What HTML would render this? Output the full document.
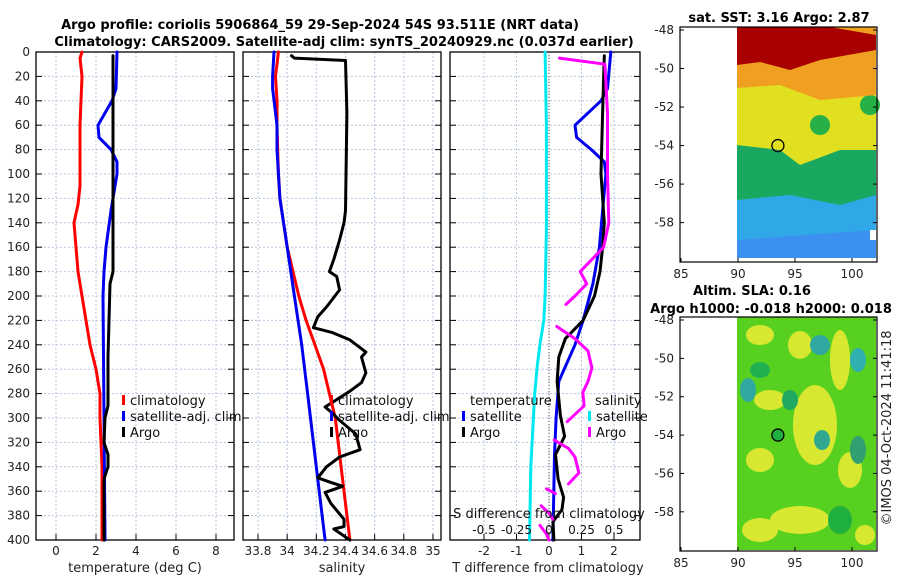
<!DOCTYPE html>
<html><head><meta charset="utf-8"><style>
html,body{margin:0;padding:0;background:#fff;}
svg{display:block;font-family:"DejaVu Sans","Liberation Sans",sans-serif;}
</style></head><body>
<svg id="c" width="900" height="580" viewBox="0 0 900 580">
<text x="320" y="29" font-size="13" font-weight="bold" text-anchor="middle">Argo profile: coriolis 5906864_59 29-Sep-2024 54S 93.511E (NRT data)</text>
<text x="344" y="46" font-size="13" font-weight="bold" text-anchor="middle">Climatology: CARS2009. Satellite-adj clim: synTS_20240929.nc (0.037d earlier)</text>
<g id="maps"></g>
<text transform="translate(891,428) rotate(-90)" font-size="13" text-anchor="middle" fill="#222">©IMOS 04-Oct-2024 11:41:18</text>
</svg>
<script>
// ---------- data ----------
const depthTicks=[0,20,40,60,80,100,120,140,160,180,200,220,240,260,280,300,320,340,360,380,400];
const tTicks=[0,2,4,6,8];
const sTicks=[33.8,34,34.2,34.4,34.6,34.8,35];
const dTicks=[-2,-1,0,1,2];
const dsTicks=[-0.5,-0.25,0,0.25,0.5];
const dsTickLabels=["-0.5","-0.25","0","0.25","0.5"];

const climTdepth=[0,5,20,60,110,125,140,160,180,200,220,240,260,280,300,340,400];
const climT=[1.3,1.2,1.3,1.2,1.2,1.1,0.9,1.0,1.1,1.3,1.5,1.7,2.0,2.2,2.2,2.3,2.3];
const satTdepth=[0,30,40,60,70,80,90,100,130,160,180,200,300,400];
const satT=[3.05,3.0,2.8,2.1,2.15,2.75,3.05,3.05,2.75,2.5,2.4,2.35,2.4,2.45];
const argoTdepth=[3,100,180,190,220,250,280,290,300,320,330,340,350,380,400];
const argoT=[2.85,2.85,2.85,2.7,2.65,2.6,2.6,2.6,2.45,2.4,2.6,2.6,2.4,2.4,2.4];

const climSdepth=[0,10,20,40,60,100,120,160,180,200,220,240,260,280,300,320,360,400];
const climS=[33.94,33.93,33.92,33.93,33.93,33.94,33.95,34.0,34.04,34.08,34.13,34.19,34.25,34.29,34.33,34.35,34.39,34.43];
const satSdepth=[0,20,30,60,80,120,160,200,240,280,320,360,400];
const satS=[33.91,33.9,33.9,33.93,33.93,33.95,34.0,34.05,34.1,34.14,34.18,34.22,34.26];
const argoSdepth=[3,5,7,50,130,140,154,170,180,184,195,209,217,226,230,236,246,250,263,271,278,291,296,302,313,326,332,340,349,352,356,361,370,383,389,391,400];
const argoS=[34.03,34.05,34.40,34.41,34.40,34.39,34.36,34.32,34.29,34.34,34.36,34.27,34.21,34.18,34.31,34.43,34.54,34.51,34.54,34.51,34.43,34.26,34.31,34.36,34.47,34.50,34.36,34.27,34.21,34.28,34.38,34.26,34.30,34.39,34.39,34.32,34.43];

const satDSdepth=[0,60,146,200,220,240,257,280,300,340,400];
const satDS=[-0.03,-0.02,-0.02,-0.03,-0.04,-0.07,-0.09,-0.11,-0.12,-0.14,-0.15];
const satDTdepth=[0,30,40,60,70,80,90,100,130,160,190,220,240,270,300,330,400];
const satDT=[1.9,1.8,1.6,0.8,0.85,1.3,1.7,1.75,1.65,1.55,1.35,1.05,0.8,0.3,0.22,0.17,0.12];
const argoDTdepth=[3,50,100,140,160,180,200,220,235,250,270,298,315,330,350,365,375,385,400];
const argoDT=[1.7,1.65,1.6,1.7,1.65,1.57,1.4,1.05,0.5,0.3,0.25,0.35,0.48,0.2,0.28,0.45,0.4,0.12,0.15];
const argoDSdepth=[5,10,50,100,140,160,170,180,190,200,207,null,225,235,245,259,270,279,290,303,null,318,325,332,345,354,null,358,362,null,372,378,383,null,388,395,400];
const argoDS=[0.08,0.43,0.45,0.45,0.46,0.42,0.33,0.24,0.29,0.2,0.13,null,0.06,0.2,0.3,0.33,0.3,0.26,0.27,0.14,null,0.04,0.15,0.2,0.23,0.15,null,-0.02,0.05,null,-0.06,0.0,0.03,null,-0.07,-0.02,0.0];

// ---------- helpers ----------
const svg=document.getElementById('c');
const NS='http://www.w3.org/2000/svg';
function mk(tag,attrs,parent){const e=document.createElementNS(NS,tag);for(const k in attrs)e.setAttribute(k,attrs[k]);(parent||svg).appendChild(e);return e;}
const Y=d=>52+1.22*d;
const xT=t=>56+20*t;
const xS=s=>258+(s-33.8)*145.8;
const xD=t=>549+32.5*t;
const xDS=s=>549+130*s;
const panels=[[36,234],[243,441],[450,640]];

function line(depths,vals,xf,color,name,w){
  let d='',pen=false;
  for(let i=0;i<depths.length;i++){
    if(depths[i]===null||vals[i]===null){pen=false;continue;}
    d+=(pen?'L':'M')+xf(vals[i]).toFixed(1)+','+Y(depths[i]).toFixed(1);pen=true;
  }
  const p=mk('path',{d:d,fill:'none',stroke:color,'stroke-width':w||3,'stroke-linejoin':'round','stroke-linecap':'round'});
  
  
}

panels.forEach((p,pi)=>{
  const g=mk('g',{});
  
  
  depthTicks.forEach(d=>{
    mk('line',{x1:p[0],x2:p[1],y1:Y(d),y2:Y(d),stroke:'#b8c4e0','stroke-width':1,'stroke-dasharray':'2,2'},g);
    mk('line',{x1:p[0],x2:p[0]+6,y1:Y(d),y2:Y(d),stroke:'#000'},g);
    mk('line',{x1:p[1]-6,x2:p[1],y1:Y(d),y2:Y(d),stroke:'#000'},g);
  });
  let ticks=pi==0?tTicks:pi==1?sTicks:dTicks, f=pi==0?xT:pi==1?xS:xD;
  ticks.forEach(t=>{
    mk('line',{x1:f(t),x2:f(t),y1:52,y2:540,stroke:'#b8c4e0','stroke-width':1,'stroke-dasharray':'2,2'},g);
    mk('line',{x1:f(t),x2:f(t),y1:534,y2:540,stroke:'#000'},g);
    const tx=mk('text',{x:f(t),y:555,'font-size':12,'text-anchor':'middle',fill:'#222'},g);
    tx.textContent=String(t);
    
    
  });
  mk('rect',{x:p[0],y:52,width:p[1]-p[0],height:488,fill:'none',stroke:'#000','stroke-width':1.3},g);
});
depthTicks.forEach(d=>{
  const t=mk('text',{x:30,y:Y(d)+4,'font-size':12,'text-anchor':'end',fill:'#222'});
  t.textContent=String(d);
  
  
});
mk('line',{x1:xD(0),x2:xD(0),y1:52,y2:540,stroke:'#555','stroke-width':1,'stroke-dasharray':'1,2'});
[[135,'temperature (deg C)','x-axis-title-temperature'],[342,'salinity','x-axis-title-salinity'],[548,'T difference from climatology','x-axis-title-t-diff']].forEach(a=>{
  const t=mk('text',{x:a[0],y:572,'font-size':13,'text-anchor':'middle',fill:'#222'});
  t.textContent=a[1];
  
  
});

line(climTdepth,climT,xT,'#ff0000','temp-climatology-line');
line(satTdepth,satT,xT,'#0000ee','temp-satellite-line');
line(argoTdepth,argoT,xT,'#000','temp-argo-line');
line(climSdepth,climS,xS,'#ff0000','sal-climatology-line');
line(satSdepth,satS,xS,'#0000ee','sal-satellite-line');
line(argoSdepth,argoS,xS,'#000','sal-argo-line');
line(satDSdepth,satDS,xDS,'#00e8f0','sdiff-satellite-line');
line(satDTdepth,satDT,xD,'#0000ee','tdiff-satellite-line');
line(argoDTdepth,argoDT,xD,'#000','tdiff-argo-line');
line(argoDSdepth,argoDS,xDS,'#ff00ff','sdiff-argo-line');

function legItem(x,y,color,label,name){
  const g=mk('g',{});
  
  
  if(color) mk('rect',{x:x,y:y-10,width:3,height:10,fill:color},g);
  const t=mk('text',{x:x+(color?8:0),y:y,'font-size':13,fill:'#111'},g);
  t.textContent=label;
}
legItem(122,405,'#ff0000','climatology','legend-entry-climatology-1');
legItem(122,421,'#0000ee','satellite-adj. clim','legend-entry-satellite-1');
legItem(122,437,'#000','Argo','legend-entry-argo-1');
legItem(330,405,'#ff0000','climatology','legend-entry-climatology-2');
legItem(330,421,'#0000ee','satellite-adj. clim','legend-entry-satellite-2');
legItem(330,437,'#000','Argo','legend-entry-argo-2');
legItem(470,405,null,'temperature','legend-title-temperature');
legItem(462,421,'#0000ee','satellite','legend-entry-t-satellite');
legItem(462,437,'#000','Argo','legend-entry-t-argo');
legItem(595,405,null,'salinity','legend-title-salinity');
legItem(588,421,'#00e8f0','satellite','legend-entry-s-satellite');
legItem(588,437,'#ff00ff','Argo','legend-entry-s-argo');
(function(){
  const t=mk('text',{x:549,y:518,'font-size':13,'text-anchor':'middle',fill:'#111'});
  t.textContent='S difference from climatology';
  
  
  dsTicks.forEach((s,i)=>{
    const l=mk('text',{x:xDS(s),y:534,'font-size':12,'text-anchor':'middle',fill:'#111'});
    l.textContent=dsTickLabels[i];
    
    
  });
})();

// ---------- maps ----------
const mg=document.getElementById('maps');
function mapFrame(y0,y1,name){
  const g=mk('g',{},mg);
  
  
  const lat=v=>y0+3+(-48-v)*((y1-y0)/12.2);
  const lon=v=>681+(v-85)*11.4;
  return {g,lat,lon};
}
function mapAxes(m,y0,y1){
  mk('rect',{x:680,y:y0,width:197,height:y1-y0,fill:'none',stroke:'#000','stroke-width':1.2},m.g);
  [-48,-50,-52,-54,-56,-58].forEach(v=>{
    const yy=m.lat(v);
    mk('line',{x1:680,x2:684,y1:yy,y2:yy,stroke:'#000'},m.g);
    mk('line',{x1:873,x2:877,y1:yy,y2:yy,stroke:'#000'},m.g);
    const t=mk('text',{x:674,y:yy+4,'font-size':12,'text-anchor':'end',fill:'#222'},m.g);
    t.textContent=String(v);
    
    
  });
  [85,90,95,100].forEach(v=>{
    const xx=m.lon(v);
    mk('line',{x1:xx,x2:xx,y1:y1-4,y2:y1,stroke:'#000'},m.g);
    const t=mk('text',{x:xx,y:y1+16,'font-size':12,'text-anchor':'middle',fill:'#222'},m.g);
    t.textContent=String(v);
    
    
  });
}
(function(){
  const m=mapFrame(27,262,'sst-map');
  const g=m.g;
  mk('rect',{x:737,y:27,width:139,height:231,fill:'#1aa860'},g);
  mk('polygon',{points:'737,200 790,195 840,205 876,195 876,258 737,258',fill:'#30a8e8'},g);
  mk('polygon',{points:'737,240 876,230 876,258 737,258',fill:'#3c90f0'},g);
  mk('polygon',{points:'737,27 876,27 876,150 840,150 800,165 780,150 737,145',fill:'#e0e020'},g);
  mk('circle',{cx:820,cy:125,r:10,fill:'#28b048'},g);
  mk('circle',{cx:870,cy:105,r:10,fill:'#28b048'},g);
  mk('polygon',{points:'737,27 876,27 876,95 820,100 780,85 737,88',fill:'#f0a020'},g);
  mk('polygon',{points:'737,27 830,27 876,35 876,50 820,60 790,70 760,62 737,65',fill:'#a80000'},g);
  mk('rect',{x:870,y:230,width:7,height:10,fill:'#fff'},g);
  mk('circle',{cx:m.lon(93.5),cy:m.lat(-54),r:6,fill:'none',stroke:'#000','stroke-width':1.3},g);
  mapAxes(m,27,262);
  const t=mk('text',{x:779,y:22,'font-size':13,'font-weight':'bold','text-anchor':'middle'},g);
  t.textContent='sat. SST: 3.16 Argo: 2.87';
  
  
})();
(function(){
  const m=mapFrame(317,551,'sla-map');
  const g=m.g;
  mk('rect',{x:737,y:317,width:139,height:233,fill:'#58d020'},g);
  [[760,335,14,10],[800,345,12,14],[770,400,16,10],[815,425,22,40],[760,460,14,12],[850,470,12,18],[800,520,30,14],[760,530,18,12],[840,360,10,30],[865,535,10,10]].forEach(b=>mk('ellipse',{cx:b[0],cy:b[1],rx:b[2],ry:b[3],fill:'#d8e830'},g));
  [[820,345,10,10,'#30a8a0'],[748,390,8,12,'#30a8a0'],[858,360,8,12,'#30b0b0'],[790,400,8,10,'#20a860'],[822,440,8,10,'#30a890'],[760,370,10,8,'#20b050'],[840,520,12,14,'#20b040'],[858,450,8,14,'#30a070']].forEach(b=>mk('ellipse',{cx:b[0],cy:b[1],rx:b[2],ry:b[3],fill:b[4]},g));
  mk('circle',{cx:m.lon(93.5),cy:m.lat(-54),r:6,fill:'#20b040',stroke:'#000','stroke-width':1.3},g);
  mapAxes(m,317,551);
  const t1=mk('text',{x:752,y:295,'font-size':13,'font-weight':'bold','text-anchor':'middle'},g);
  t1.textContent='Altim. SLA: 0.16';
  
  
  const t2=mk('text',{x:771,y:313,'font-size':13,'font-weight':'bold','text-anchor':'middle'},g);
  t2.textContent='Argo h1000: -0.018 h2000: 0.018';
  
  
})();
</script>
</body></html>
